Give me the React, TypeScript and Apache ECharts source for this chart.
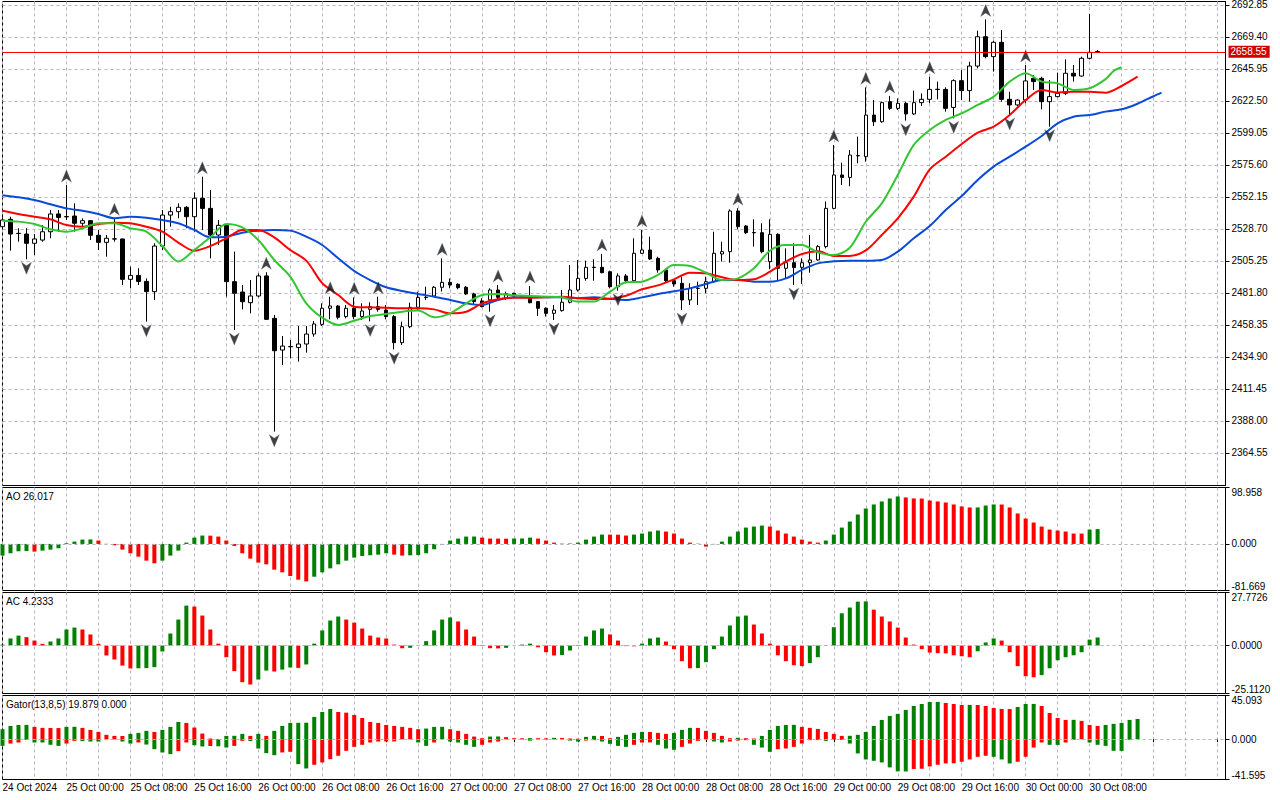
import React, { useEffect, useRef } from "react";
import * as echarts from "echarts";

const FONT = '"Liberation Sans", Arial, Helvetica, sans-serif';
const GREEN = "#008000";
const RED = "#ff0000";
const GRID_LINE = "#b8b0c4";
const JAW_COLOR = "#0a4ad8";
const TEETH_COLOR = "#ff0000";
const LIPS_COLOR = "#33c633";

// ---------- categories / ticks ----------
const SLOT_COUNT = 154; // hourly slots 24 Oct 16:00 ... incl. shifted-forward area
const CATEGORIES = Array.from({ length: SLOT_COUNT }, (_, i) => String(i));
const TICK_LABELS = [
  "24 Oct 2024", "25 Oct 00:00", "25 Oct 08:00", "25 Oct 16:00", "26 Oct 00:00",
  "26 Oct 08:00", "26 Oct 16:00", "27 Oct 00:00", "27 Oct 08:00", "27 Oct 16:00",
  "28 Oct 00:00", "28 Oct 08:00", "28 Oct 16:00", "29 Oct 00:00", "29 Oct 08:00",
  "29 Oct 16:00", "30 Oct 00:00", "30 Oct 08:00",
];
const PRICE_TICKS = [
  2364.55, 2388.0, 2411.45, 2434.9, 2458.35, 2481.8, 2505.25, 2528.7,
  2552.15, 2575.6, 2599.05, 2622.5, 2645.95, 2669.4, 2692.85,
];
const PRICE_MIN = 2340.73;
const PRICE_MAX = 2695.41;
const AO_MIN = -81.669, AO_MAX = 98.958;
const AC_MIN = -25.112, AC_MAX = 27.7726;
const GATOR_MIN = -41.595, GATOR_MAX = 45.093;
const GATOR_HEADER = [19.879, 0.0];

// ---------- OHLC ----------
const OPEN = [
  2530.4, 2535.8, 2525.5, 2525.0, 2518.2, 2520.6, 2526.7, 2539.7, 2537.8, 2538.2,
  2532.9, 2534.8, 2524.1, 2518.9, 2521.5, 2521.4, 2491.8, 2494.7, 2490.3, 2482.8,
  2516.2, 2538.9, 2541.4, 2544.6, 2537.7, 2551.2, 2543.8, 2524.3, 2531.4, 2490.1,
  2482.5, 2474.7, 2479.6, 2494.3, 2463.2, 2440.0, 2442.6, 2441.9, 2444.4, 2451.7,
  2458.8, 2470.6, 2472.3, 2464.5, 2470.6, 2464.5, 2469.8, 2471.8, 2469.3, 2464.5,
  2445.4, 2457.1, 2471.3, 2478.7, 2479.6, 2486.0, 2489.6, 2488.2, 2486.0, 2481.1,
  2476.0, 2476.7, 2484.0, 2477.9, 2481.6, 2479.6, 2478.6, 2475.5, 2470.6, 2466.9,
  2468.9, 2475.0, 2484.0, 2492.5, 2500.7, 2500.6, 2497.4, 2486.4, 2494.3, 2490.8,
  2510.9, 2513.3, 2507.2, 2498.7, 2490.8, 2488.9, 2476.7, 2485.3, 2485.2, 2490.1,
  2510.4, 2512.1, 2541.9, 2530.9, 2526.1, 2526.0, 2504.8, 2524.8, 2499.9, 2504.0,
  2500.6, 2504.0, 2506.0, 2515.8, 2543.8, 2568.3, 2566.5, 2582.5, 2581.7, 2612.2,
  2607.3, 2622.0, 2617.1, 2620.8, 2613.0, 2621.3, 2623.7, 2631.1, 2631.0, 2617.8,
  2637.4, 2630.1, 2648.1, 2669.6, 2655.0, 2665.5, 2623.7, 2619.6, 2623.2, 2639.1,
  2639.1, 2622.0, 2625.7, 2628.1, 2642.8, 2640.8, 2653.8, 2658.7,
];
const HIGH = [
  2537.0, 2537.7, 2529.2, 2529.2, 2525.0, 2531.6, 2542.6, 2542.6, 2560.9, 2547.5,
  2536.5, 2535.3, 2527.9, 2524.3, 2536.5, 2521.6, 2501.1, 2499.9, 2492.5, 2518.2,
  2542.6, 2545.0, 2547.5, 2545.5, 2555.6, 2567.0, 2557.3, 2535.3, 2532.9, 2512.1,
  2487.7, 2491.3, 2496.2, 2497.0, 2465.7, 2450.3, 2447.4, 2457.6, 2457.6, 2461.3,
  2474.2, 2479.1, 2473.0, 2473.0, 2478.6, 2474.2, 2475.0, 2479.1, 2473.0, 2465.7,
  2460.8, 2474.7, 2482.8, 2486.4, 2486.9, 2507.2, 2492.5, 2488.9, 2486.9, 2482.0,
  2477.9, 2485.2, 2487.7, 2482.8, 2482.0, 2480.3, 2486.9, 2475.7, 2471.3, 2473.0,
  2484.0, 2502.3, 2506.0, 2505.5, 2506.5, 2510.4, 2498.2, 2496.2, 2495.7, 2521.9,
  2528.0, 2523.1, 2508.4, 2499.2, 2491.8, 2493.8, 2488.9, 2490.1, 2493.8, 2526.7,
  2519.4, 2543.1, 2544.0, 2531.6, 2535.8, 2532.9, 2535.8, 2525.5, 2514.5, 2518.2,
  2507.2, 2524.3, 2517.0, 2548.8, 2590.3, 2577.3, 2586.6, 2596.4, 2632.5, 2623.2,
  2622.0, 2626.2, 2624.4, 2622.0, 2630.1, 2628.1, 2640.3, 2636.7, 2632.5, 2638.4,
  2645.2, 2651.3, 2674.0, 2682.3, 2666.7, 2674.5, 2629.3, 2623.7, 2648.9, 2641.5,
  2640.3, 2637.9, 2643.3, 2653.0, 2648.9, 2655.0, 2686.3, 2659.9,
];
const LOW = [
  2528.5, 2512.8, 2519.4, 2506.5, 2509.7, 2519.4, 2521.9, 2526.7, 2535.3, 2526.7,
  2530.4, 2520.6, 2513.3, 2508.4, 2519.4, 2487.7, 2485.2, 2487.7, 2460.8, 2476.7,
  2513.3, 2530.4, 2536.5, 2529.2, 2526.7, 2528.0, 2507.2, 2517.0, 2479.1, 2454.7,
  2469.8, 2466.9, 2478.6, 2462.0, 2380.2, 2429.0, 2433.9, 2431.5, 2438.1, 2449.8,
  2457.6, 2462.5, 2462.5, 2463.2, 2462.5, 2462.0, 2461.0, 2468.1, 2462.5, 2440.5,
  2443.7, 2456.0, 2469.3, 2476.7, 2479.1, 2482.8, 2485.2, 2484.5, 2480.4, 2473.7,
  2471.3, 2468.1, 2477.2, 2476.7, 2478.6, 2477.9, 2474.2, 2465.0, 2464.5, 2462.0,
  2468.1, 2474.2, 2482.8, 2490.8, 2490.8, 2496.2, 2485.2, 2483.5, 2488.9, 2490.1,
  2510.4, 2506.0, 2496.7, 2489.4, 2486.4, 2469.3, 2473.0, 2473.0, 2481.6, 2489.4,
  2504.8, 2504.0, 2528.5, 2525.0, 2515.8, 2510.9, 2499.2, 2491.3, 2492.5, 2487.7,
  2488.5, 2496.7, 2505.5, 2514.5, 2543.1, 2560.9, 2560.0, 2576.8, 2578.0, 2604.2,
  2606.6, 2615.9, 2615.9, 2608.1, 2612.2, 2618.8, 2620.8, 2623.7, 2614.7, 2609.8,
  2623.2, 2622.0, 2646.4, 2653.8, 2644.0, 2622.0, 2612.2, 2618.8, 2620.8, 2630.6,
  2616.4, 2603.7, 2625.2, 2626.9, 2636.7, 2640.3, 2653.0, 2657.9,
];
const CLOSE = [
  2535.3, 2525.0, 2525.4, 2518.2, 2521.4, 2526.7, 2539.7, 2537.2, 2537.6, 2532.9,
  2534.8, 2524.1, 2518.9, 2521.9, 2521.3, 2491.8, 2494.7, 2490.3, 2482.8, 2516.2,
  2538.9, 2541.4, 2544.6, 2537.7, 2551.2, 2543.8, 2524.3, 2531.4, 2490.1, 2481.6,
  2475.4, 2479.6, 2494.3, 2462.5, 2439.5, 2442.9, 2442.4, 2444.4, 2451.7, 2459.1,
  2470.6, 2472.3, 2464.0, 2470.6, 2464.5, 2468.6, 2471.8, 2469.8, 2464.5, 2445.4,
  2457.1, 2471.3, 2478.6, 2478.5, 2486.0, 2489.6, 2487.7, 2485.7, 2481.1, 2475.5,
  2471.8, 2484.0, 2478.6, 2481.1, 2479.6, 2478.6, 2474.7, 2470.6, 2466.9, 2469.3,
  2475.0, 2484.0, 2492.5, 2500.6, 2500.5, 2496.7, 2486.4, 2494.3, 2490.8, 2510.9,
  2513.3, 2506.7, 2498.7, 2490.8, 2488.4, 2476.7, 2485.2, 2485.1, 2490.1, 2510.9,
  2512.1, 2541.9, 2530.4, 2526.0, 2525.9, 2512.1, 2524.8, 2499.9, 2504.0, 2500.4,
  2504.0, 2506.0, 2515.8, 2543.8, 2568.3, 2566.5, 2582.9, 2582.3, 2612.2, 2607.3,
  2621.3, 2617.1, 2620.8, 2613.0, 2621.3, 2623.7, 2631.0, 2630.9, 2617.1, 2637.4,
  2630.1, 2648.1, 2669.6, 2655.0, 2665.5, 2623.7, 2619.6, 2623.2, 2637.2, 2636.7,
  2622.0, 2625.7, 2628.1, 2642.8, 2640.8, 2653.8, 2658.2, 2658.55,
];

// ---------- fractals (bar indexes) ----------
const FRACTAL_UP = [8, 14, 25, 33, 41, 44, 47, 55, 62, 66, 75, 80, 92, 104, 108, 111, 116, 123, 128];
const FRACTAL_DOWN = [3, 18, 29, 34, 46, 49, 61, 69, 77, 85, 99, 113, 119, 126, 131];

// ---------- Alligator (read every 2 bars), [barIndex, price] ----------
const JAW = [
  [0, 2553.4], [2, 2551.9], [4, 2549.9], [6, 2546.8], [8, 2543.8], [10, 2542.1], [12, 2539.7],
  [14, 2536.5], [16, 2537.7], [18, 2537.0], [20, 2535.3], [22, 2532.9], [24, 2528.0], [26, 2522.6],
  [28, 2523.1], [30, 2526.0], [32, 2527.5], [34, 2528.0], [36, 2527.5], [38, 2523.1], [40, 2517.0],
  [42, 2507.2], [44, 2497.9], [46, 2491.3], [48, 2486.0], [50, 2483.3], [52, 2481.1], [54, 2479.1],
  [56, 2476.7], [58, 2474.2], [60, 2473.0], [62, 2476.7], [64, 2478.6], [66, 2478.6], [68, 2478.6],
  [70, 2478.6], [72, 2477.9], [74, 2478.6], [76, 2477.4], [78, 2476.7], [80, 2478.6], [82, 2481.1],
  [84, 2483.0], [86, 2485.2], [88, 2488.4], [90, 2491.3], [92, 2491.3], [94, 2490.1], [96, 2490.1],
  [98, 2492.5], [100, 2498.7], [102, 2503.5], [104, 2505.0], [106, 2505.5], [108, 2505.5],
  [110, 2506.0], [112, 2512.1], [114, 2521.9], [116, 2530.9], [118, 2542.6], [120, 2552.9],
  [122, 2564.6], [124, 2574.4], [126, 2581.7], [128, 2589.0], [130, 2596.8], [132, 2606.1],
  [134, 2611.0], [136, 2612.2], [138, 2614.7], [140, 2616.4], [142, 2620.5], [144, 2626.0], [145, 2628.6],
];
const TEETH = [
  [0, 2542.1], [2, 2539.7], [4, 2537.7], [6, 2535.8], [8, 2531.6], [10, 2530.4], [12, 2532.4],
  [14, 2533.3], [16, 2532.9], [18, 2530.4], [20, 2526.7], [22, 2518.7], [24, 2512.8], [26, 2516.2],
  [28, 2521.9], [30, 2528.0], [32, 2528.0], [34, 2522.6], [36, 2513.3], [38, 2505.5], [40, 2489.0],
  [42, 2480.3], [44, 2471.8], [46, 2471.3], [48, 2471.0], [50, 2470.6], [52, 2470.6], [54, 2469.8],
  [56, 2466.9], [58, 2468.1], [60, 2474.2], [62, 2477.2], [64, 2478.4], [66, 2478.4], [68, 2478.6],
  [70, 2479.1], [72, 2477.9], [74, 2477.4], [76, 2477.6], [78, 2479.8], [80, 2484.5], [82, 2487.4],
  [84, 2491.8], [86, 2496.7], [88, 2496.2], [90, 2493.3], [92, 2491.3], [94, 2491.8], [96, 2497.4],
  [98, 2504.8], [100, 2510.4], [102, 2512.3], [104, 2509.0], [106, 2508.9], [108, 2513.0],
  [110, 2524.3], [112, 2536.5], [114, 2552.4], [116, 2572.4], [118, 2581.7], [120, 2591.0],
  [122, 2599.3], [124, 2603.7], [126, 2612.2], [128, 2623.2], [130, 2630.5], [132, 2628.8],
  [134, 2629.3], [136, 2629.3], [138, 2628.6], [140, 2633.5], [142, 2640.3],
];
const LIPS = [
  [0, 2534.8], [2, 2534.1], [4, 2532.4], [6, 2528.5], [8, 2526.7], [10, 2529.2], [12, 2532.9],
  [14, 2532.9], [16, 2529.2], [18, 2526.7], [20, 2516.2], [22, 2504.8], [24, 2513.3], [26, 2522.6],
  [28, 2532.4], [30, 2529.9], [32, 2520.6], [34, 2506.0], [36, 2493.8], [38, 2474.2], [40, 2463.7],
  [42, 2458.4], [44, 2461.5], [46, 2464.9], [48, 2466.4], [50, 2468.1], [52, 2468.9], [54, 2464.0],
  [56, 2466.9], [58, 2474.2], [60, 2480.3], [62, 2481.1], [64, 2480.1], [66, 2479.6], [68, 2479.1],
  [70, 2478.6], [72, 2475.5], [74, 2475.5], [76, 2482.8], [78, 2489.6], [80, 2490.1], [82, 2495.0],
  [84, 2502.3], [86, 2501.6], [88, 2496.7], [90, 2491.3], [92, 2492.5], [94, 2499.9], [96, 2512.8],
  [98, 2517.0], [100, 2517.0], [102, 2511.6], [104, 2509.6], [106, 2515.0], [108, 2534.0],
  [110, 2547.5], [112, 2568.3], [114, 2590.3], [116, 2601.2], [118, 2608.6], [120, 2613.5],
  [122, 2619.6], [124, 2625.7], [126, 2636.7], [128, 2642.8], [130, 2636.7], [132, 2635.4],
  [134, 2630.5], [136, 2631.8], [138, 2638.5], [139, 2644.5], [140, 2647.2],
];

// ---------- Awesome Oscillator ----------
const AO = [
  -20.5, -16.4, -12.9, -12.5, -13.5, -11.7, -10.0, -7.6, 1.2, 4.1,
  7.6, 7.8, 5.9, 0.3, -2.3, -10.0, -16.4, -22.3, -29.3, -34.0,
  -29.3, -20.5, -11.7, 2.3, 11.1, 14.7, 14.5, 12.9, 5.9, -3.5,
  -16.4, -25.8, -32.8, -35.8, -45.1, -49.8, -56.3, -62.7, -65.7, -57.5,
  -49.8, -42.8, -35.8, -29.3, -24.0, -21.1, -19.9, -18.8, -16.4, -18.8,
  -20.5, -20.0, -19.5, -16.4, -9.4, -1.2, 5.9, 9.4, 12.9, 13.0,
  11.1, 9.4, 9.3, 9.2, 9.5, 9.6, 11.1, 9.4, 5.9, 2.3,
  0.6, 0.8, 2.3, 7.6, 12.9, 16.4, 16.3, 16.2, 14.7, 16.4,
  18.2, 21.7, 23.5, 21.7, 18.2, 9.4, 2.3, 0.5, -4.7, -0.5,
  4.1, 12.9, 21.7, 28.7, 30.5, 32.2, 30.5, 23.5, 18.2, 12.9,
  7.6, 4.1, 2.3, 5.9, 16.4, 28.7, 39.3, 51.6, 62.1, 69.2,
  74.5, 79.7, 83.3, 81.5, 79.7, 79.6, 76.2, 74.5, 72.7, 69.2,
  65.7, 63.9, 64.0, 67.4, 69.2, 69.1, 63.9, 53.4, 44.6, 37.5,
  30.5, 25.2, 23.5, 21.7, 18.2, 18.1, 25.2, 26.017,
];

// ---------- Accelerator Oscillator ----------
const AC = [
  0.5, 3.7, 5.2, 4.4, 2.6, 0.9, 2.1, 3.7, 8.4, 9.4,
  8.4, 5.8, 0.9, -5.2, -7.3, -10.5, -12.0, -11.9, -11.8, -11.3,
  -3.1, 6.3, 13.6, 20.9, 20.4, 15.7, 8.4, 1.0, -6.1, -13.4,
  -19.2, -20.4, -17.8, -13.1, -13.6, -12.6, -11.5, -11.7, -9.9, 1.0,
  7.9, 13.1, 15.2, 13.6, 12.0, 8.9, 5.2, 4.2, 3.7, 0.5,
  -1.4, -1.2, -0.1, 2.3, 7.9, 13.6, 14.7, 12.6, 8.4, 4.7,
  0.3, -1.4, -1.5, -1.2, 0.0, 0.5, 1.0, -0.9, -3.5, -5.2,
  -5.0, -2.6, 0.3, 4.7, 7.9, 8.9, 5.8, 2.6, -0.3, -0.4,
  1.0, 3.7, 4.2, 2.1, -1.9, -8.2, -11.9, -11.8, -8.7, -1.9,
  4.7, 10.5, 15.2, 15.7, 11.0, 6.3, 1.0, -5.1, -8.2, -10.3,
  -10.8, -9.2, -6.1, 0.2, 9.6, 16.9, 19.9, 23.0, 23.1, 18.8,
  15.2, 12.6, 9.4, 4.2, 0.5, -1.9, -3.7, -4.0, -4.1, -5.1,
  -5.6, -6.1, -3.0, 1.6, 3.7, 2.6, -3.5, -10.8, -16.1, -16.6,
  -15.5, -11.9, -7.7, -6.1, -5.1, -3.5, 3.1, 4.2333,
];

// ---------- Gator Oscillator ----------
const GATOR_UP = [
  10.3, 13.7, 14.7, 14.8, 12.7, 11.7, 11.6, 11.5, 12.7, 12.8,
  11.7, 9.6, 7.5, 4.5, 3.4, 3.3, 5.5, 6.5, 8.6, 7.5,
  9.6, 12.7, 17.8, 16.8, 12.0, 5.8, 0.7, 0.2, 3.4, 3.5,
  5.5, 3.4, 5.5, 3.4, 8.6, 13.7, 16.8, 16.9, 17.0, 23.0,
  28.1, 31.2, 28.1, 27.4, 25.0, 21.9, 17.8, 16.8, 14.7, 13.7,
  12.7, 11.7, 10.3, 11.0, 12.7, 12.8, 10.3, 8.6, 5.5, 2.7,
  1.0, 2.7, 2.8, 2.1, 1.0, 0.9, 1.1, 1.0, 0.9, 1.4,
  1.3, 0.7, 0.5, 2.4, 3.4, 3.3, 1.0, 2.4, 4.5, 6.5,
  7.5, 7.4, 6.5, 5.5, 6.5, 9.6, 11.7, 11.6, 8.6, 6.5,
  3.4, 1.0, 1.4, 1.0, 0.7, 3.4, 9.6, 13.7, 14.7, 14.8,
  12.7, 11.7, 10.6, 7.5, 5.5, 3.4, 3.5, 4.5, 7.5, 13.7,
  19.9, 24.0, 26.1, 30.2, 34.3, 36.3, 38.4, 38.5, 37.4, 36.3,
  35.3, 35.4, 35.3, 34.3, 32.2, 31.2, 31.1, 33.2, 36.3, 36.4,
  34.3, 27.1, 21.9, 19.9, 20.0, 18.9, 14.7, 13.7, 14.7, 15.8,
  16.8, 19.9, 20.9,
];
const GATOR_DOWN = [
  -6.9, -4.5, -3.4, -0.8, -3.4, -3.4, -5.8, -6.9, -4.5, -1.7,
  -2.0, -2.4, -2.5, -0.3, -0.2, -2.4, -4.5, -3.4, -5.5, -10.3,
  -13.7, -15.4, -12.3, -3.4, -6.2, -7.5, -7.0, -7.3, -8.6, -6.9,
  -1.7, -1.8, -9.6, -14.4, -16.5, -13.7, -13.0, -25.7, -30.2, -26.4,
  -24.0, -20.6, -17.1, -12.0, -7.9, -5.8, -3.4, -2.4, -2.35, -2.3,
  -0.2, -0.1, -3.4, -6.9, -3.4, -0.05, -2.4, -3.4, -5.8, -7.9,
  -5.8, -3.4, -2.4, -0.1, -0.1, -0.4, -1.5, -0.5, -0.4, -0.3,
  -0.1, -1.4, -2.4, -1.4, -1.0, -2.4, -4.8, -6.9, -7.9, -5.8,
  -3.4, -3.3, -5.8, -9.6, -11.0, -7.9, -4.5, -1.7, -0.1, -2.4,
  -3.4, -2.4, -1.4, -1.0, -5.8, -8.6, -13.0, -10.3, -9.6, -7.9,
  -4.5, -1.0, -0.9, -1.7, -0.7, -0.75, -4.5, -14.7, -20.9, -22.3,
  -24.0, -29.1, -33.2, -33.3, -30.8, -30.5, -28.1, -26.4, -25.0, -24.9,
  -23.3, -20.9, -18.2, -17.1, -18.2, -20.9, -25.0, -23.3, -18.2, -8.6,
  -3.4, -5.8, -5.9, -3.4, -0.7, -0.1, -3.4, -5.8, -6.9, -12.0,
  -12.1, -0.7,
];

// ---------- helpers ----------
const risingColors = (vals: number[], byMagnitude = false) =>
  vals.map((v, i) => {
    if (i === 0) return GREEN;
    const a = byMagnitude ? Math.abs(v) : v;
    const b = byMagnitude ? Math.abs(vals[i - 1]) : vals[i - 1];
    return a >= b ? GREEN : RED;
  });

const histData = (vals: number[], byMagnitude = false) => {
  const cols = risingColors(vals, byMagnitude);
  return vals.map((v, i) => ({ value: v, itemStyle: { color: cols[i] } }));
};

const UP_ARROW = "path://M5,0 L10,12 L5,8.5 L0,12 Z";
const DOWN_ARROW = "path://M0,0 L5,3.5 L10,0 L5,12 Z";

const GRID_LEFT = 2.5;
const GRID_WIDTH = 1223;
const PANES = [
  { top: 1.5, height: 484 },
  { top: 487.5, height: 103 },
  { top: 592.5, height: 101 },
  { top: 695.5, height: 84 },
];

const labelStyle = { fontSize: 10, color: "#000", fontFamily: FONT };

const indicatorYAxis = (gridIndex: number, min: number, max: number, digits: number) => ({
  type: "value",
  gridIndex,
  position: "right",
  min,
  max,
  axisLine: { show: true, lineStyle: { color: "#000", width: 1 } },
  axisTick: { show: true, length: 4, lineStyle: { color: "#000" }, customValues: [min, 0, max] },
  axisLabel: {
    show: true,
    ...labelStyle,
    margin: 6,
    customValues: [min, 0, max],
    formatter: (v: number) => {
      const s = Math.abs(v) < 1e-9 ? (0).toFixed(digits) : v.toFixed(digits);
      if (Math.abs(v - max) < 1e-6) return "{t|" + s + "}";
      if (Math.abs(v - min) < 1e-6) return "{b|" + s + "}";
      return s;
    },
    rich: {
      t: { ...labelStyle, padding: [9, 0, 0, 0] },
      b: { ...labelStyle, padding: [0, 0, 9, 0] },
    },
  },
  splitLine: { show: false },
});

const zeroLine = {
  silent: true,
  symbol: ["none", "none"],
  label: { show: false },
  lineStyle: { color: GRID_LINE, type: [3, 3], width: 1 },
  data: [{ yAxis: 0 }],
};

export default function App() {
  const ref = useRef<HTMLDivElement>(null);

  useEffect(() => {
    if (!ref.current) return;
    const chart = echarts.init(ref.current, null, { renderer: "svg" });
    const last = CLOSE[CLOSE.length - 1];

    const option: any = {
      animation: false,
      backgroundColor: "#ffffff",
      textStyle: { fontFamily: FONT },
      grid: PANES.map((p) => ({
        left: GRID_LEFT,
        width: GRID_WIDTH,
        top: p.top,
        height: p.height,
        show: true,
        borderColor: "#000",
        borderWidth: 1,
        backgroundColor: "transparent",
        containLabel: false,
        outerBoundsMode: "none",
      })),
      xAxis: PANES.map((_, gi) => ({
        type: "category",
        gridIndex: gi,
        data: CATEGORIES,
        boundaryGap: false,
        axisLine: { show: false },
        axisTick: {
          show: gi === 3,
          interval: 7,
          length: 3,
          lineStyle: { color: "#000" },
        },
        axisLabel: {
          show: gi === 3,
          interval: 7,
          align: "left",
          margin: 3,
          ...labelStyle,
          formatter: (_v: string, idx: number) =>
            idx % 8 === 0 && idx / 8 < TICK_LABELS.length ? TICK_LABELS[idx / 8] : "",
        },
        splitLine: {
          show: true,
          interval: 3,
          lineStyle: { color: GRID_LINE, type: [3, 3], width: 1 },
        },
      })),
      yAxis: [
        {
          type: "value",
          gridIndex: 0,
          position: "right",
          min: PRICE_MIN,
          max: PRICE_MAX,
          axisLine: { show: true, lineStyle: { color: "#000", width: 1 } },
          axisTick: { show: true, length: 4, lineStyle: { color: "#000" }, customValues: PRICE_TICKS },
          axisLabel: {
            show: true,
            ...labelStyle,
            margin: 6,
            customValues: PRICE_TICKS,
            formatter: (v: number) => v.toFixed(2),
          },
          splitLine: { show: true, lineStyle: { color: GRID_LINE, type: [3, 3], width: 1 } },
        },
        indicatorYAxis(1, AO_MIN, AO_MAX, 3),
        indicatorYAxis(2, AC_MIN, AC_MAX, 4),
        indicatorYAxis(3, GATOR_MIN, GATOR_MAX, 3),
      ],
      graphic: [
        { type: "text", left: 6, top: 491, style: { text: "AO " + AO[AO.length - 1].toFixed(3), fontSize: 10, fill: "#000", fontFamily: FONT } },
        { type: "text", left: 6, top: 596, style: { text: "AC " + AC[AC.length - 1].toFixed(4), fontSize: 10, fill: "#000", fontFamily: FONT } },
        {
          type: "text",
          left: 6,
          top: 699,
          style: {
            text: "Gator(13,8,5) " + GATOR_HEADER[0].toFixed(3) + " " + GATOR_HEADER[1].toFixed(3),
            fontSize: 10,
            fill: "#000",
            fontFamily: FONT,
          },
        },
      ],
      series: [
        {
          name: "Price",
          type: "candlestick",
          xAxisIndex: 0,
          yAxisIndex: 0,
          barWidth: 4,
          z: 2,
          data: OPEN.map((o, i) => [o, CLOSE[i], LOW[i], HIGH[i]]),
          itemStyle: {
            color: "#ffffff",
            color0: "#000000",
            borderColor: "#000000",
            borderColor0: "#000000",
            borderColorDoji: "#000000",
            borderWidth: 1,
          },
          markLine: {
            silent: true,
            symbol: ["none", "none"],
            lineStyle: { color: "#ff0000", width: 1, type: "solid", opacity: 1 },
            label: {
              show: true,
              position: "end",
              distance: 3,
              formatter: () => last.toFixed(2),
              backgroundColor: "#d00000",
              color: "#ffffff",
              fontSize: 10,
              fontFamily: FONT,
              padding: [1, 3, 1, 2],
            },
            data: [{ yAxis: last }],
          },
        },
        {
          name: "Jaw",
          type: "line",
          xAxisIndex: 0,
          yAxisIndex: 0,
          data: JAW,
          smooth: 0.3,
          showSymbol: false,
          symbol: "none",
          z: 3,
          lineStyle: { color: JAW_COLOR, width: 2 },
        },
        {
          name: "Teeth",
          type: "line",
          xAxisIndex: 0,
          yAxisIndex: 0,
          data: TEETH,
          smooth: 0.3,
          showSymbol: false,
          symbol: "none",
          z: 3,
          lineStyle: { color: TEETH_COLOR, width: 2 },
        },
        {
          name: "Lips",
          type: "line",
          xAxisIndex: 0,
          yAxisIndex: 0,
          data: LIPS,
          smooth: 0.3,
          showSymbol: false,
          symbol: "none",
          z: 3,
          lineStyle: { color: LIPS_COLOR, width: 2 },
        },
        {
          name: "Fractal up",
          type: "scatter",
          xAxisIndex: 0,
          yAxisIndex: 0,
          z: 4,
          symbol: UP_ARROW,
          symbolSize: [10, 12],
          symbolOffset: [0, -9],
          itemStyle: { color: "#111111", borderColor: "#50607a", borderWidth: 0.4 },
          data: FRACTAL_UP.map((i) => [i, HIGH[i]]),
        },
        {
          name: "Fractal down",
          type: "scatter",
          xAxisIndex: 0,
          yAxisIndex: 0,
          z: 4,
          symbol: DOWN_ARROW,
          symbolSize: [10, 12],
          symbolOffset: [0, 9],
          itemStyle: { color: "#111111", borderColor: "#50607a", borderWidth: 0.4 },
          data: FRACTAL_DOWN.map((i) => [i, LOW[i]]),
        },
        {
          name: "AO",
          type: "bar",
          xAxisIndex: 1,
          yAxisIndex: 1,
          barWidth: 4,
          data: histData(AO),
          markLine: zeroLine,
        },
        {
          name: "AC",
          type: "bar",
          xAxisIndex: 2,
          yAxisIndex: 2,
          barWidth: 4,
          data: histData(AC),
          markLine: zeroLine,
        },
        {
          name: "Gator up",
          type: "bar",
          xAxisIndex: 3,
          yAxisIndex: 3,
          barWidth: 4,
          barGap: "-100%",
          data: histData(GATOR_UP),
          markLine: zeroLine,
        },
        {
          name: "Gator down",
          type: "bar",
          xAxisIndex: 3,
          yAxisIndex: 3,
          barWidth: 4,
          barGap: "-100%",
          data: histData(GATOR_DOWN, true),
        },
      ],
    };

    chart.setOption(option);
    return () => chart.dispose();
  }, []);

  return (
    <div
      ref={ref}
      style={{ position: "fixed", left: 0, top: 0, width: 1280, height: 800, background: "#fff" }}
    />
  );
}
